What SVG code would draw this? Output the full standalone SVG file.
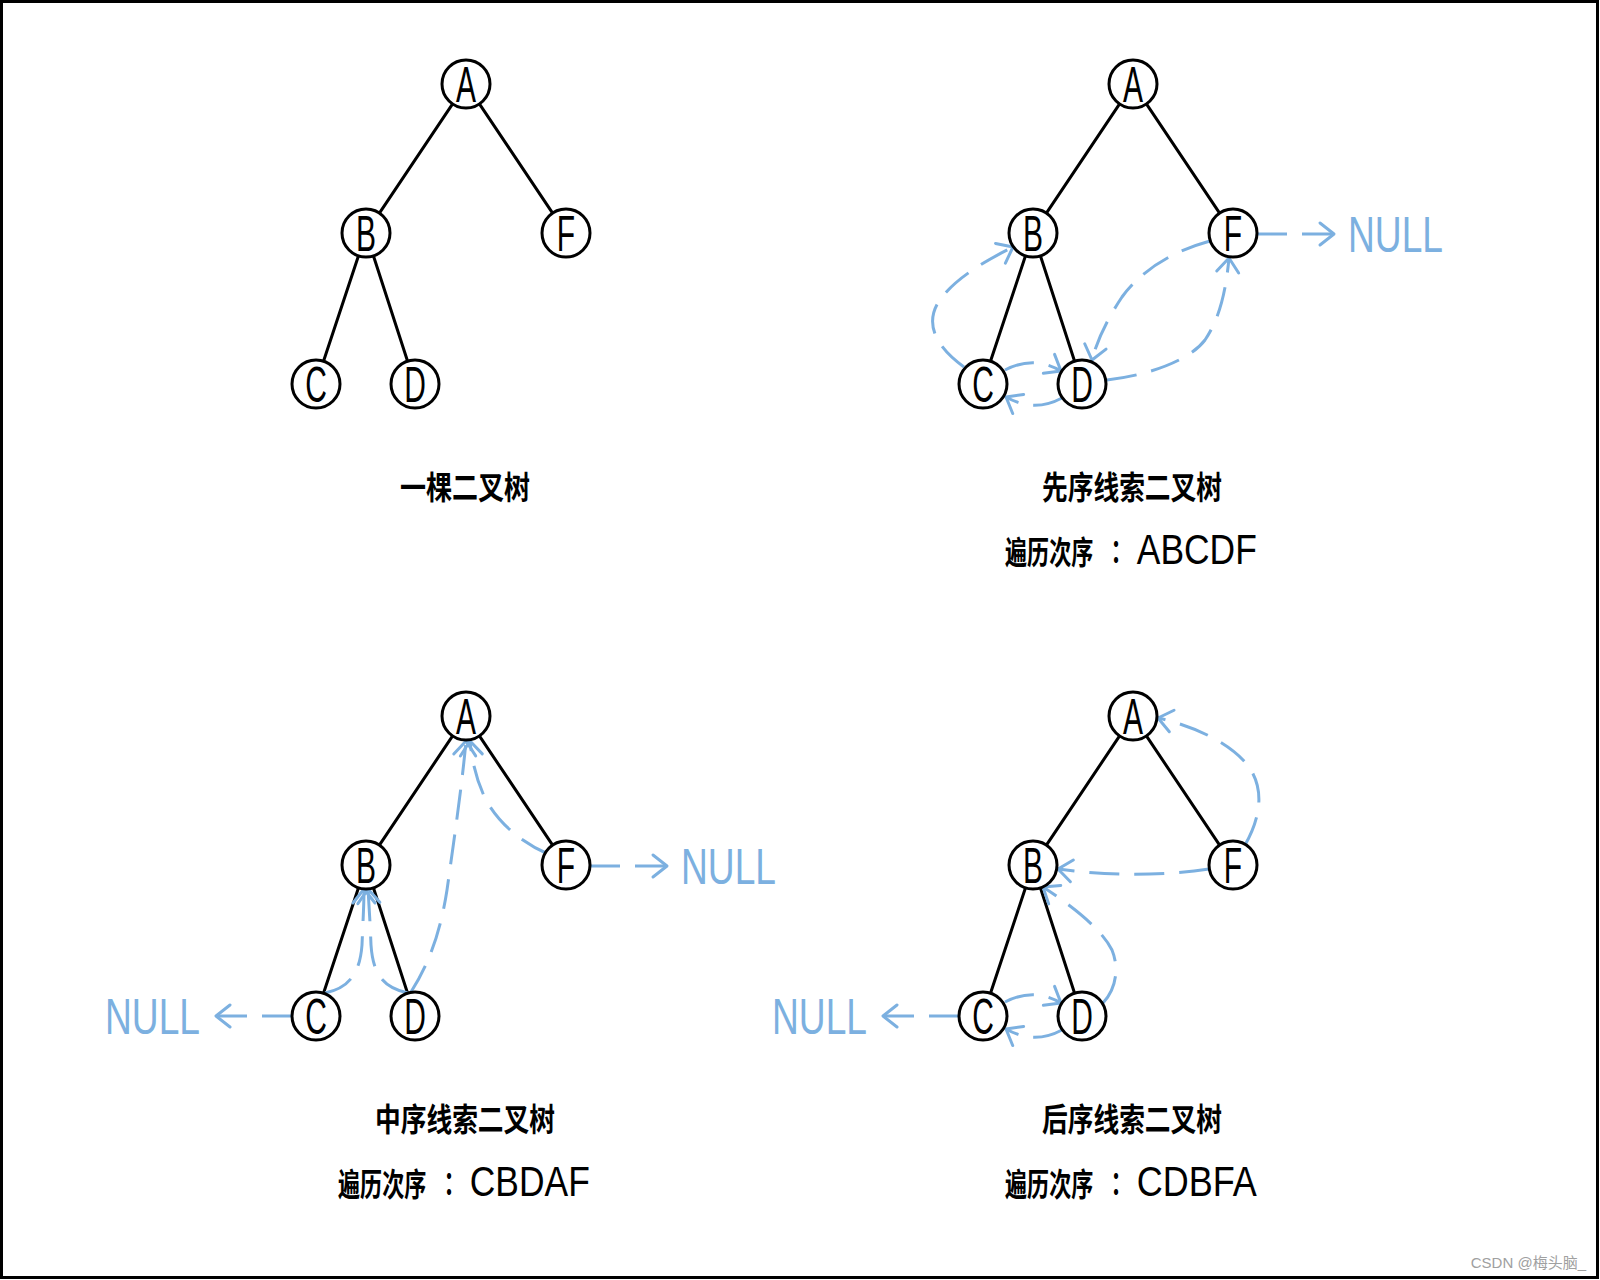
<svg xmlns="http://www.w3.org/2000/svg" width="1600" height="1280" viewBox="0 0 1600 1280">
<style>
.nd circle{fill:#fff;stroke:#000;stroke-width:3}
.nd text{font-family:"Liberation Sans",Arial,sans-serif;font-size:50px;text-anchor:middle;fill:#000}
.ed{stroke:#000;stroke-width:3;fill:none;stroke-linecap:round}
.th{stroke:#7cb0e0;stroke-width:3;fill:none;stroke-dasharray:30 15;marker-end:url(#ah)}
.null{font-family:"Liberation Sans",Arial,sans-serif;font-size:50px;fill:#7cb0e0}
.ttl{font-family:"Noto Sans CJK SC","Noto Sans CJK TC",sans-serif;font-size:32px;font-weight:bold;fill:#000}
.col{font-family:"Noto Sans CJK TC","Noto Sans CJK JP",sans-serif;font-size:32px;font-weight:bold}
.lat{font-family:"Liberation Sans",Arial,sans-serif;font-size:42px;font-weight:normal}
.wm{font-family:"Liberation Sans","Noto Sans CJK SC",sans-serif;font-size:15px;fill:#a0a0a0;text-anchor:end}
</style>
<defs>
<marker id="ah" viewBox="-18 -14 22 28" refX="0" refY="0" markerWidth="22" markerHeight="28" markerUnits="userSpaceOnUse" orient="auto">
<path d="M-14,-11 L0,0 L-14,11" fill="none" stroke="#7cb0e0" stroke-width="3" stroke-linecap="round" stroke-linejoin="round"/>
</marker>
<g id="tree-edges">
<path d="M452.6,103.9 L379.4,213.1"/>
<path d="M479.4,103.9 L552.6,213.1"/>
<path d="M358.5,255.8 L323.5,361.2"/>
<path d="M373.4,255.8 L407.6,361.2"/>
</g>
</defs>
<rect x="1.5" y="1.5" width="1596" height="1276" fill="#fff" stroke="#000" stroke-width="3"/>

<g id="connectors">
<g class="ed">
<use href="#tree-edges"/>
<use href="#tree-edges" transform="translate(667,0)"/>
<use href="#tree-edges" transform="translate(0,632)"/>
<use href="#tree-edges" transform="translate(667,632)"/>
</g>
<g id="threads-preorder">
<path class="th" d="M964,367 C936,347 922,322 942,297 C958,277 985,261 1013,247"/>
<path class="th" d="M1005,370 Q1034,355 1061,371"/>
<path class="th" d="M1062,398 Q1034,413 1006,397"/>
<path class="th" d="M1107,380 C1150,375 1190,360 1205,340 C1220,318 1226,290 1229,258"/>
<path class="th" d="M1210,241 C1170,252 1140,272 1122,297 C1108,318 1097,340 1092,360"/>
<path class="th" d="M1257,234 L1334,234"/>
</g>
<g id="threads-inorder">
<path class="th" d="M292,1016 L216,1016"/>
<path class="th" d="M325,993 C350,988 360,972 362,945 C363,920 364,905 364,889"/>
<path class="th" d="M408,993 C384,988 373,975 371,945 C370,920 369,905 368,889"/>
<path class="th" d="M411,992 C428,965 440,935 447,890 C454,840 462,785 466,741"/>
<path class="th" d="M548,854 C520,842 498,822 486,800 C477,782 472,762 470,741"/>
<path class="th" d="M590,866 L667,866"/>
</g>
<g id="threads-postorder">
<path class="th" d="M959,1016 L883,1016"/>
<path class="th" d="M1005,1002 Q1034,987 1061,1003"/>
<path class="th" d="M1062,1030 Q1034,1045 1006,1029"/>
<path class="th" d="M1103,1003 C1115,990 1120,970 1112,950 C1102,930 1075,908 1043,887"/>
<path class="th" d="M1209,869 C1160,876 1110,876 1058,869"/>
<path class="th" d="M1245,845 C1262,815 1265,785 1245,762 C1225,740 1190,725 1158,718"/>
</g>
</g>

<!-- tree 1 -->
<g id="t1-A" class="nd" transform="translate(466,84)"><circle r="24"/><text y="18" transform="scale(0.6,1)">A</text></g>
<g id="t1-B" class="nd" transform="translate(366,233)"><circle r="24"/><text y="18" transform="scale(0.6,1)">B</text></g>
<g id="t1-F" class="nd" transform="translate(566,233)"><circle r="24"/><text y="18" transform="scale(0.6,1)">F</text></g>
<g id="t1-C" class="nd" transform="translate(316,384)"><circle r="24"/><text y="18" transform="scale(0.6,1)">C</text></g>
<g id="t1-D" class="nd" transform="translate(415,384)"><circle r="24"/><text y="18" transform="scale(0.6,1)">D</text></g>
<!-- tree 2 -->
<g id="t2-A" class="nd" transform="translate(1133,84)"><circle r="24"/><text y="18" transform="scale(0.6,1)">A</text></g>
<g id="t2-B" class="nd" transform="translate(1033,233)"><circle r="24"/><text y="18" transform="scale(0.6,1)">B</text></g>
<g id="t2-F" class="nd" transform="translate(1233,233)"><circle r="24"/><text y="18" transform="scale(0.6,1)">F</text></g>
<g id="t2-C" class="nd" transform="translate(983,384)"><circle r="24"/><text y="18" transform="scale(0.6,1)">C</text></g>
<g id="t2-D" class="nd" transform="translate(1082,384)"><circle r="24"/><text y="18" transform="scale(0.6,1)">D</text></g>
<!-- tree 3 -->
<g id="t3-A" class="nd" transform="translate(466,716)"><circle r="24"/><text y="18" transform="scale(0.6,1)">A</text></g>
<g id="t3-B" class="nd" transform="translate(366,865)"><circle r="24"/><text y="18" transform="scale(0.6,1)">B</text></g>
<g id="t3-F" class="nd" transform="translate(566,865)"><circle r="24"/><text y="18" transform="scale(0.6,1)">F</text></g>
<g id="t3-C" class="nd" transform="translate(316,1016)"><circle r="24"/><text y="18" transform="scale(0.6,1)">C</text></g>
<g id="t3-D" class="nd" transform="translate(415,1016)"><circle r="24"/><text y="18" transform="scale(0.6,1)">D</text></g>
<!-- tree 4 -->
<g id="t4-A" class="nd" transform="translate(1133,716)"><circle r="24"/><text y="18" transform="scale(0.6,1)">A</text></g>
<g id="t4-B" class="nd" transform="translate(1033,865)"><circle r="24"/><text y="18" transform="scale(0.6,1)">B</text></g>
<g id="t4-F" class="nd" transform="translate(1233,865)"><circle r="24"/><text y="18" transform="scale(0.6,1)">F</text></g>
<g id="t4-C" class="nd" transform="translate(983,1016)"><circle r="24"/><text y="18" transform="scale(0.6,1)">C</text></g>
<g id="t4-D" class="nd" transform="translate(1082,1016)"><circle r="24"/><text y="18" transform="scale(0.6,1)">D</text></g>

<!-- NULL labels -->
<text class="null" x="1348" y="252" textLength="95" lengthAdjust="spacingAndGlyphs">NULL</text>
<text class="null" x="681" y="884" textLength="95" lengthAdjust="spacingAndGlyphs">NULL</text>
<text class="null" x="105" y="1034" textLength="95" lengthAdjust="spacingAndGlyphs">NULL</text>
<text class="null" x="772" y="1034" textLength="95" lengthAdjust="spacingAndGlyphs">NULL</text>

<!-- captions -->
<text class="ttl" x="400" y="499" textLength="130" lengthAdjust="spacingAndGlyphs">一棵二叉树</text>
<text class="ttl" x="1042" y="499" textLength="180" lengthAdjust="spacingAndGlyphs">先序线索二叉树</text>
<text class="ttl" transform="translate(1005,564) scale(0.69,1)"><tspan x="0">遍历次序</tspan><tspan class="col" x="145">：</tspan><tspan class="lat" x="191" textLength="174" lengthAdjust="spacingAndGlyphs">ABCDF</tspan></text>
<text class="ttl" x="375" y="1131" textLength="180" lengthAdjust="spacingAndGlyphs">中序线索二叉树</text>
<text class="ttl" transform="translate(338,1196) scale(0.69,1)"><tspan x="0">遍历次序</tspan><tspan class="col" x="145">：</tspan><tspan class="lat" x="191" textLength="174" lengthAdjust="spacingAndGlyphs">CBDAF</tspan></text>
<text class="ttl" x="1042" y="1131" textLength="180" lengthAdjust="spacingAndGlyphs">后序线索二叉树</text>
<text class="ttl" transform="translate(1005,1196) scale(0.69,1)"><tspan x="0">遍历次序</tspan><tspan class="col" x="145">：</tspan><tspan class="lat" x="191" textLength="174" lengthAdjust="spacingAndGlyphs">CDBFA</tspan></text>

<text class="wm" x="1586" y="1268">CSDN @梅头脑_</text>
</svg>
